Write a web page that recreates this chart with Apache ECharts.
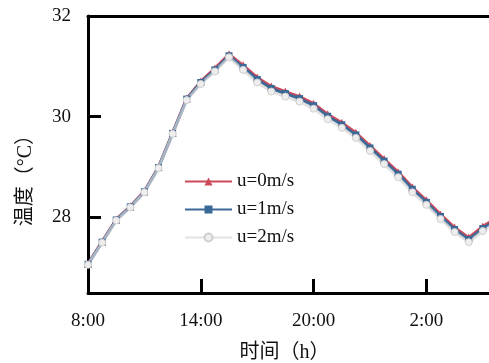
<!DOCTYPE html>
<html><head><meta charset="utf-8">
<script src="https://cdn.jsdelivr.net/npm/echarts@6/dist/echarts.min.js"></script>
<style>html,body{margin:0;padding:0;background:#fff}#c{width:489px;height:363px}</style>
</head><body><div id="c"></div>
<script>
var hours = [8, 8.75, 9.5, 10.25, 11, 11.75, 12.5, 13.25, 14, 14.75, 15.5, 16.25, 17, 17.75, 18.5, 19.25, 20, 20.75, 21.5, 22.25, 23, 23.75, 24.5, 25.25, 26, 26.75, 27.5, 28.25, 29, 29.75];
var u0 = [27.08, 27.52, 27.96, 28.22, 28.52, 29.0, 29.68, 30.36, 30.7, 30.96, 31.24, 31.02, 30.78, 30.6, 30.5, 30.4, 30.26, 30.05, 29.88, 29.68, 29.42, 29.16, 28.9, 28.6, 28.34, 28.06, 27.8, 27.6, 27.82, 28.0];
var u1 = [27.07, 27.51, 27.95, 28.21, 28.51, 28.99, 29.67, 30.35, 30.68, 30.93, 31.21, 30.98, 30.74, 30.56, 30.46, 30.36, 30.22, 30.01, 29.84, 29.64, 29.38, 29.12, 28.86, 28.56, 28.3, 28.02, 27.76, 27.56, 27.78, 27.96];
var u2 = [27.06, 27.5, 27.94, 28.2, 28.5, 28.98, 29.66, 30.33, 30.65, 30.9, 31.18, 30.93, 30.68, 30.5, 30.4, 30.3, 30.16, 29.95, 29.78, 29.58, 29.32, 29.06, 28.8, 28.5, 28.25, 27.97, 27.71, 27.51, 27.73, 27.91];
var seriesNames = ['u=0m/s', 'u=1m/s', 'u=2m/s'];
var xTicks = [8, 14, 20, 26];
var yTicks = [28, 30, 32];

function pairs(v){ return hours.map(function(h,i){ return [h, v[i]]; }); }
var serif = '"Liberation Serif", "Times New Roman", "Noto Sans CJK SC", serif';
var chart = echarts.init(document.getElementById('c'), null, {renderer:'canvas'});
chart.setOption({
  animation: false,
  grid: {left: 88, top: 16, right: 0, bottom: 70, containLabel: false, outerBoundsMode: 'none'},
  legend: {
    orient: 'vertical', left: 184, top: 172, padding: 0, itemWidth: 47, itemHeight: 10, itemGap: 9,
    textStyle: {fontFamily: serif, fontSize: 19, color: '#111'},
    data: seriesNames
  },
  xAxis: [{
    type: 'value', min: 8, max: 29.33,
    name: '时间（h）', nameLocation: 'middle', nameGap: 50,
    nameTextStyle: {fontFamily: serif, fontSize: 20, color: '#111', padding: [0,0,0,-8]},
    axisLine: {show: true, lineStyle: {color: '#000', width: 3}},
    axisTick: {show: true, inside: true, length: 14, lineStyle: {color: '#000', width: 3}, customValues: xTicks.slice(1)},
    axisLabel: {fontFamily: serif, fontSize: 19, color: '#111', margin: 19, customValues: xTicks,
      formatter: function(v){ return (Math.round(v) % 24) + ':00'; }},
    splitLine: {show: false}
  },{
    type: 'value', position: 'top', min: 8, max: 29.33,
    axisLine: {show: true, lineStyle: {color: '#000', width: 3}},
    axisTick: {show: false}, axisLabel: {show: false}, splitLine: {show: false}
  }],
  yAxis: {
    type: 'value', min: 26.5, max: 32,
    axisLine: {show: true, lineStyle: {color: '#000', width: 3}},
    axisTick: {show: true, inside: true, length: 13, lineStyle: {color: '#000', width: 3}, customValues: [28, 30]},
    axisLabel: {fontFamily: serif, fontSize: 19, color: '#111', margin: 17, customValues: yTicks},
    splitLine: {show: false}
  },
  graphic: [{
    type: 'text', left: 16, top: 125, rotation: Math.PI/2,
    style: {text: '温度（°C）', fontFamily: serif, fontSize: 20, fill: '#111'}
  }],
  series: [
    {name: seriesNames[0], type: 'line', data: pairs(u0), symbol: 'triangle', symbolSize: 8,
      lineStyle: {color: '#cc4a5c', width: 3}, itemStyle: {color: '#cc4a5c'}},
    {name: seriesNames[1], type: 'line', data: pairs(u1), symbol: 'rect', symbolSize: 7,
      lineStyle: {color: '#3a6897', width: 3}, itemStyle: {color: '#3a6897'}},
    {name: seriesNames[2], type: 'line', data: pairs(u2), symbol: 'circle', symbolSize: 7,
      lineStyle: {color: '#d6d6d6', width: 3, opacity: 0.7}, itemStyle: {color: '#eeeeee', borderColor: '#cfcfcf', borderWidth: 1}}
  ]
});
</script></body></html>
